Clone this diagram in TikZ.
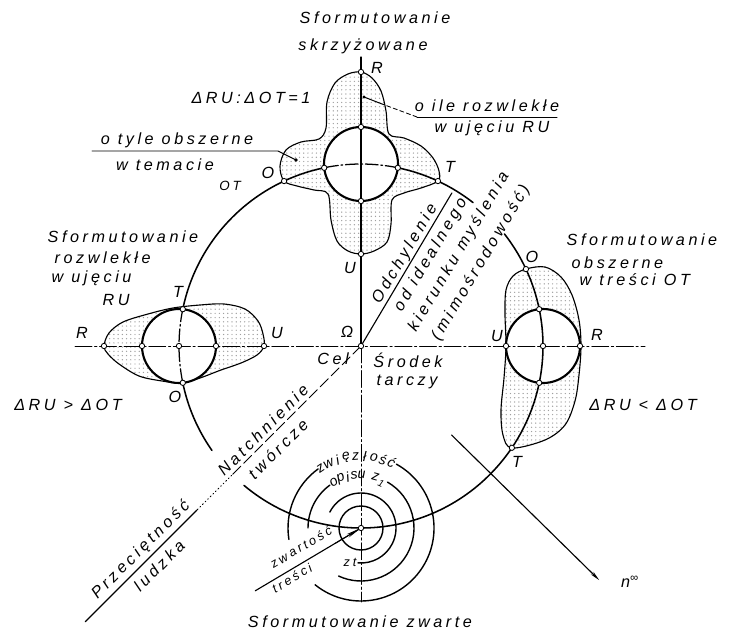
\documentclass[tikz,border=0pt]{standalone}
\usepackage{fontspec}
\setmainfont{Liberation Sans}[LetterSpace=22]
\usetikzlibrary{arrows.meta, calc, patterns}

\newcommand{\hand}{\fontsize{11.5}{13}\selectfont\itshape}
\newcommand{\smallhand}{\fontsize{9}{10}\selectfont\itshape}
\newcommand{\archand}{\fontsize{10}{11}\selectfont\itshape}

\tikzset{
	lbl/.style={font=\hand, inner sep=1pt},
	slbl/.style={font=\smallhand, inner sep=1pt},
	arclbl/.style={font=\archand, inner sep=0pt},
	bigarc/.style={line width=1.1pt},
	dotarc/.style={line width=0.9pt, dash pattern=on 9pt off 2pt on 1.2pt off 2pt},
	ring/.style={line width=1.5pt, fill=white},
	blob/.style={line width=0.8pt, pattern=dots, pattern color=gray!75},
	axis/.style={line width=0.7pt, dash pattern=on 12pt off 2pt on 1.5pt off 2pt},
	pin/.style={circle, draw, line width=0.6pt, fill=white, inner sep=0pt, minimum size=3.8pt},
	target/.style={line width=1pt},
}

\begin{document}
\begin{tikzpicture}[x=0.025cm, y=0.025cm, line cap=round]
	\useasboundingbox (0,0) rectangle (729,634);
	\coordinate (Om) at (361,288);
	\coordinate (topC) at (361,470);
	\coordinate (leftC) at (179,288);
	\coordinate (rightC) at (543,288);
	\coordinate (tgt) at (361,106);

	% stippled fields
	\draw[blob] plot[smooth cycle, tension=0.55] coordinates {(361,562) (372,556) (381,543) (386,523) (389,500) (404,496) (421,488) (433,476) (439,463) (438,453) (421,446) (404,441) (392,434) (391,410) (387,392) (374,383) (361,380) (348,383) (337,393) (331,414) (328,440) (314,444) (297,448) (284,453) (280,468) (286,484) (301,492) (319,495) (326,506) (327,532) (335,551) (348,560)};
	\draw[blob] plot[smooth cycle, tension=0.55] coordinates {(104,288) (109,301) (123,312) (148,320) (173,326) (200,329) (224,330) (245,325) (258,313) (263,300) (264,288) (257,279) (241,271) (221,264) (200,256) (182,251) (162,253) (139,258) (119,270) (108,280)};
	\draw[blob] plot[smooth cycle, tension=0.55] coordinates {(526,365) (545,367) (561,357) (572,339) (579,314) (581,288) (579,259) (575,233) (565,209) (545,194) (512,186) (503,199) (501,224) (504,256) (506,288) (505,320) (506,344) (513,358)};

	% small circles
	\draw[ring] (topC) circle[radius=37];
	\draw[ring] (leftC) circle[radius=37];
	\draw[ring] (rightC) circle[radius=37];

	% axes
	\draw[line width=0.8pt] (361,577) -- (Om);
	\draw[axis] (Om) -- (361,32);
	\draw[axis] (75,288) -- (645,288);

	% big circle
	\draw[bigarc] (Om) ++(52:182) arc[start angle=52, end angle=78.33, radius=182];
	\draw[dotarc] (Om) ++(78.33:182) arc[start angle=78.33, end angle=101.67, radius=182];
	\draw[bigarc] (Om) ++(101.67:182) arc[start angle=101.67, end angle=168.33, radius=182];
	\draw[dotarc] (Om) ++(168.33:182) arc[start angle=168.33, end angle=191.67, radius=182];
	\draw[bigarc] (Om) ++(191.67:182) arc[start angle=191.67, end angle=215, radius=182];
	\draw[bigarc] (Om) ++(230:182) arc[start angle=230, end angle=398, radius=182];

	% target rings
	\draw[target] (tgt) circle[radius=22];
	\draw[target] (tgt) ++(153:35) arc[start angle=153, end angle=-95, radius=35];
	\draw[target] (tgt) ++(180:53) arc[start angle=180, end angle=126, radius=53];
	\draw[target] (tgt) ++(60:53) arc[start angle=60, end angle=-115, radius=53];
	\draw[target] (tgt) ++(189:73) arc[start angle=189, end angle=126, radius=73];
	\draw[target] (tgt) ++(61:73) arc[start angle=61, end angle=-129, radius=73];
	\foreach \ch [count=\i, evaluate=\i as \ang using 124-7.4*(\i-1)] in {z,w,i,ę,z,ł,o,ś,ć}
		\node[arclbl, rotate=\ang-90] (zw\i) at ($(tgt)+(\ang:72)$) {\ch};
	\foreach \ch/\ang [count=\i] in {o/121, p/112, i/104.5, s/97.5, u/89.5, z/74}
		\node[arclbl, rotate=\ang-90] (op\i) at ($(tgt)+(\ang:53)$) {\ch};
	\node[arclbl, font=\fontsize{7}{8}\selectfont\itshape, rotate=-24] (opsub) at ($(tgt)+(66:49)$) {1};

	% rays
	\coordinate (odEnd) at ($(Om)+(59.3:178)$);
	\draw[line width=0.8pt] (Om) -- (odEnd);
	\coordinate (natA) at ($(Om)+(225:183)$);
	\coordinate (natB) at ($(Om)+(225:232)$);
	\coordinate (natEnd) at ($(Om)+(225:390)$);
	\draw[line width=0.7pt, dash pattern=on 8pt off 3pt] (Om) -- (natA);
	\draw[line width=0.7pt, dash pattern=on 0.6pt off 2pt] (natA) -- (natB);
	\draw[line width=0.8pt] (natB) -- (natEnd);
	\coordinate (nStart) at ($(Om)+(-44.5:127)$);
	\coordinate (nEnd) at ($(Om)+(-44.5:334)$);
	\draw[line width=0.8pt, -{Stealth[length=7pt, width=2.6pt]}] (nStart) -- (nEnd);
	\coordinate (ztEnd) at ($(tgt)+(210.7:123)$);
	\draw[line width=0.8pt] (ztEnd) -- (tgt);
	\draw[line width=0.6pt, -{Stealth[length=11pt, width=2.8pt]}] ($(tgt)+(210.7:30)$) -- (tgt);

	% leaders
	\coordinate (tyleEnd) at (278,483);
	\coordinate (tyleDot) at (296,474);
	\draw[line width=0.7pt] (92,483) -- (tyleEnd) -- (tyleDot);
	\fill (tyleDot) circle[radius=1.8];
	\coordinate (ileStart) at (417,517);
	\coordinate (ileBend) at (382,530);
	\coordinate (ileDot) at (364,537);
	\draw[line width=0.7pt] (ileStart) -- (557,517);
	\draw[line width=0.6pt, dash pattern=on 3pt off 2pt] (ileStart) -- (ileBend);
	\draw[line width=0.7pt] (ileBend) -- (ileDot);
	\fill (ileDot) circle[radius=1.6];

	% points
	\coordinate (topO) at ($(Om)+(115:182)$);
	\coordinate (topT) at ($(Om)+(65:182)$);
	\coordinate (rightO) at ($(Om)+(25:182)$);
	\coordinate (rightT) at ($(Om)+(-34:182)$);
	\foreach \p/\n in {(361,562)/pR1, (361,507)/pN1, (361,433)/pS1, (324.2,466.2)/pW1, (397.8,466.2)/pE1, (topO)/pO1, (topT)/pT1, (361,380)/pU1,
		(104,288)/pR2, (142,288)/pW2, (179,288)/pC2, (216,288)/pE2, (182.8,324.8)/pN2, (182.8,251.2)/pS2, (264,288)/pU2,
		(rightO)/pO3, (rightT)/pT3, (506,288)/pU3, (580,288)/pR3, (543,288)/pC3, (539.2,324.8)/pN3, (539.2,251.2)/pS3,
		(Om)/pOm, (tgt)/pTg}
		\node[pin] (\n) at \p {};

	% texts
	\node[lbl] (topTitle) at (375,616) {Sformutowanie};
	\node[lbl] (topSub) at (363,588) {skrzyżowane};
	\node[lbl] (lR1) at (377,566) {R};
	\node[lbl] (ratio) at (251,536) {ΔRU:ΔOT=1};
	\node[lbl] (tyle) at (177,494) {o tyle obszerne};
	\node[lbl] (temacie) at (165,469) {w temacie};
	\node[lbl] (lO1) at (268,461) {O};
	\node[lbl, font=\fontsize{9.5}{11}\selectfont\itshape] (lOT) at (230,448) {OT};
	\node[lbl] (lT1) at (450,467) {T};
	\node[lbl] (lU1) at (350,366) {U};
	\node[lbl] (ile) at (487,528) {o ile rozwlekłe};
	\node[lbl] (ujeciu) at (492,506) {w ujęciu RU};

	\node[lbl, anchor=west] (leftTitle) at (46,397) {Sformutowanie};
	\node[lbl, anchor=west] (leftSub1) at (53,376) {rozwlekłe};
	\node[lbl, anchor=west] (leftSub2) at (50,356) {w ujęciu};
	\node[lbl, anchor=west] (leftSub3) at (101,334) {RU};
	\node[lbl] (lT2) at (178,342) {T};
	\node[lbl] (lR2) at (82,301) {R};
	\node[lbl] (lU2) at (277,301) {U};
	\node[lbl] (lO2) at (175,237) {O};
	\node[lbl] (gtr) at (68,229) {ΔRU > ΔOT};

	\node[lbl] (omega) at (347,302) {Ω};
	\node[lbl] (cel) at (333,275) {Cel};
	\node[lbl] (srodek) at (408,274) {Środek};
	\node[lbl] (tarczy) at (407,252) {tarczy};

	\node[lbl, rotate=59.3] (odch) at (405,380) {Odchylenie};
	\node[lbl, rotate=59.3] (ideal) at (431,379) {od idealnego};
	\node[lbl, rotate=59.3] (kier) at (459,382) {kierunku myślenia};
	\node[lbl, rotate=59.3] (mimo) at (481,371) {(mimośrodowość)};

	\node[lbl, anchor=west] (rightTitle) at (565,394) {Sformutowanie};
	\node[lbl, anchor=west] (rightSub1) at (570,371) {obszerne};
	\node[lbl, anchor=west] (rightSub2) at (578,354) {w treści OT};
	\node[lbl] (lO3) at (532,377) {O};
	\node[lbl] (lU3) at (497,298) {U};
	\node[lbl] (lR3) at (597,299) {R};
	\node[lbl] (lT3) at (517,172) {T};
	\node[lbl] (lss) at (643,229) {ΔRU < ΔOT};

	\node[lbl, rotate=45] (natch) at (263,204) {Natchnienie};
	\node[lbl, rotate=45] (tworcze) at (278,185) {twórcze};
	\node[lbl, rotate=45] (przec) at (141,84) {Przeciętność};
	\node[lbl, rotate=45] (ludzka) at (159,68) {ludzka};

	\node[slbl, rotate=30.7] (zwart) at (301,87) {zwartość};
	\node[slbl, rotate=30.7] (tresci) at (292,56) {treści};
	\node[slbl] (zt) at (350,72) {zt};
	\node[lbl] (ninf) at (630,52) {n\textsuperscript{∞}};
	\node[lbl] (bottomTitle) at (360,12) {Sformutowanie zwarte};
\end{tikzpicture}
\end{document}
